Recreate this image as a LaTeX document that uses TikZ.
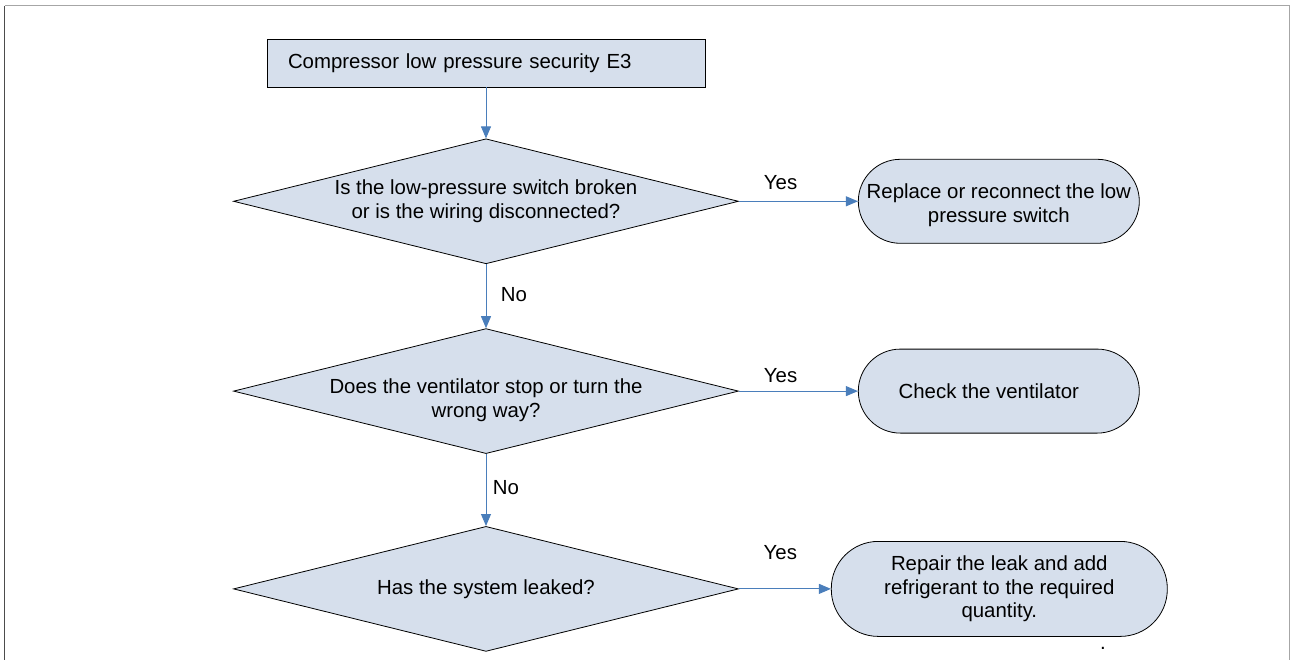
\documentclass[tikz,border=0pt]{standalone}
\usepackage{fontspec}
\setmainfont{Liberation Sans}
\usetikzlibrary{shapes.geometric, arrows.meta, positioning}
\definecolor{boxfill}{HTML}{D6DFEC}
\definecolor{flowblue}{HTML}{4A7EBB}

\begin{document}
\begin{tikzpicture}[
    x=1pt, y=-1pt,
    node distance=51pt and 119pt,
    base/.style={
        draw=black, line width=0.8pt, fill=boxfill,
        font=\fontsize{20.4}{23.5}\selectfont,
        align=center, inner sep=0pt
    },
    startbox/.style={base, rectangle, align=left, text width=396pt, inner xsep=21pt, minimum height=48pt},
    decision/.style={base, diamond, aspect=4, minimum width=505pt, minimum height=125pt},
    action/.style={base, rectangle, rounded corners=42pt, minimum width=281pt, minimum height=84pt},
    lbl/.style={font=\fontsize{20.4}{23.5}\selectfont, text=black, inner sep=0pt},
    arr/.style={-{Triangle[length=12pt, width=10pt]}, flowblue, line width=0.9pt},
]
\useasboundingbox (0,0) rectangle (1290,660);

%% ---- FRAME ----
\draw[gray!70, line width=1pt] (4.5,6) -- (1289,6) -- (1289,660);
\draw[black!70, line width=1pt] (4.5,660) -- (4.5,6);

%% ---- MAIN COLUMN ----
\node[startbox] (start) at (486,63) {Compressor low pressure security E3};
\node[decision, below=51pt of start] (q1) {Is the low-pressure switch broken\\or is the wiring disconnected?};
\node[decision, below=64pt of q1,
      label={[lbl, align=center, yshift=-9pt]center:Does the ventilator stop or turn the\\wrong way?}]
    (q2) {};
\node[decision, below=72pt of q2]    (q3) {Has the system leaked?};

%% ---- ACTIONS ----
\node[action, right=of q1] (fix1) {\rule{0pt}{22.6pt}Replace or reconnect the low\\pressure switch};
\node[action, right=of q2] (fix2) {Check the ventilator\hspace*{20pt}};
\node[action, right=92pt of q3, minimum width=336pt, minimum height=95pt, rounded corners=47pt]
    (fix3) {Repair the leak and add\\refrigerant to the required\\quantity.};
\node[lbl] (dot) at (1103,648) {.};

%% ---- ARROWS ----
\draw[arr] (start) -- (q1);
\draw[arr] (q1) -- node[lbl, pos=0.47, right=14.5pt] {No} (q2);
\draw[arr] (q2) -- node[lbl, pos=0.47, right=6.5pt] {No} (q3);
\draw[arr] (q1) -- node[lbl, pos=0.35, above=11pt] {Yes} (fix1);
\draw[arr] (q2) -- node[lbl, pos=0.35, above=8pt] {Yes} (fix2);
\draw[arr] (q3) -- node[lbl, pos=0.45, above=29pt] {Yes} (fix3);

\end{tikzpicture}
\end{document}
